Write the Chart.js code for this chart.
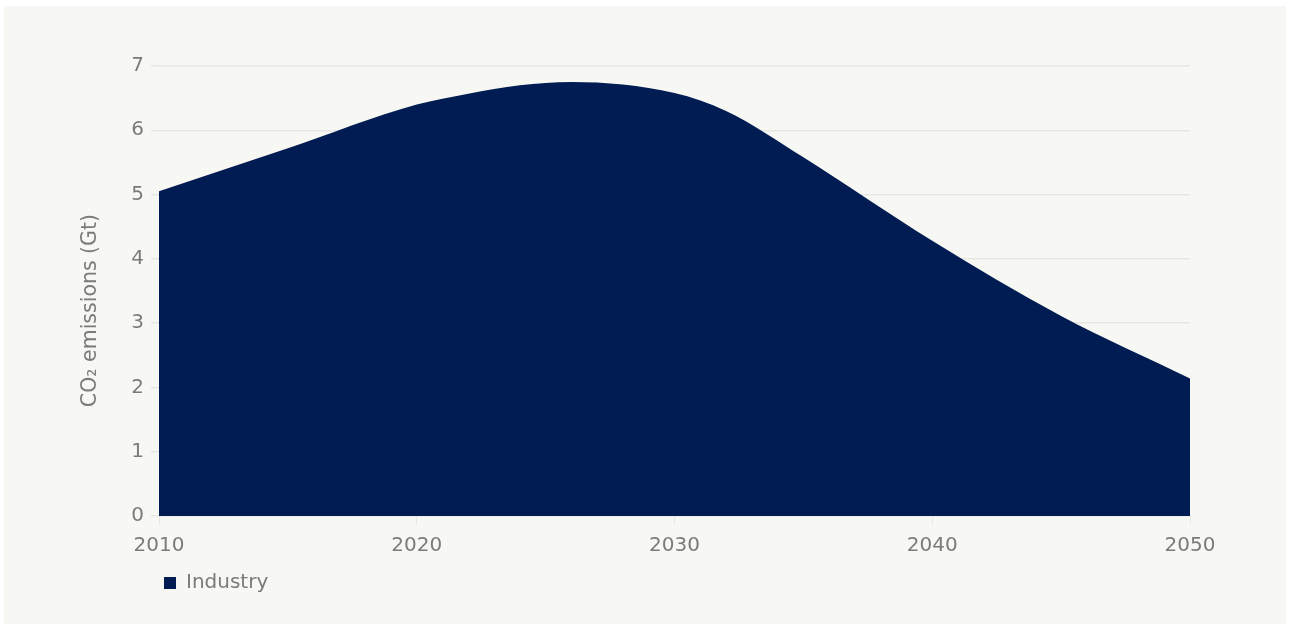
<!DOCTYPE html>
<html>
<head>
<meta charset="utf-8">
<script src="https://cdn.jsdelivr.net/npm/chart.js@4"></script>
<style>
  html, body { margin: 0; padding: 0; background: #ffffff; }
  #wrap { position: absolute; left: 4px; top: 6px; width: 1282px; height: 618px; background: #f7f8f3; }
  canvas { display: block; }
</style>
</head>
<body>
<div id="wrap"><canvas id="c" width="1282" height="618"></canvas></div>
<script>
const years = [2010, 2015, 2020, 2022, 2024, 2026, 2030, 2032, 2035, 2040, 2045, 2050];
const industry = [5.05, 5.72, 6.40, 6.57, 6.70, 6.75, 6.58, 6.30, 5.58, 4.28, 3.11, 2.14];
const xTicks = [2010, 2020, 2030, 2040, 2050];
const yTicks = [0, 1, 2, 3, 4, 5, 6, 7];
const seriesName = 'Industry';
const yTitle = 'CO\u2082 emissions (Gt)\u00a0\u00a0\u00a0\u00a0\u00a0\u00a0';

const textColor = '#7b7b7b';
const gridColor = '#e6e6e3';
const fillColor = '#001c52';
const fontFamily = '"DejaVu Sans", Verdana, sans-serif';

new Chart(document.getElementById('c'), {
  type: 'line',
  data: {
    datasets: [{
      label: seriesName,
      data: years.map((y, i) => ({ x: y, y: industry[i] })),
      backgroundColor: fillColor,
      borderColor: fillColor,
      borderWidth: 0,
      pointRadius: 0,
      fill: 'origin',
      cubicInterpolationMode: 'monotone'
    }]
  },
  options: {
    responsive: false,
    animation: false,
    layout: { padding: { left: 74, right: 96, top: 60, bottom: 21 } },
    plugins: {
      tooltip: { enabled: false },
      legend: {
        position: 'bottom',
        align: 'start',
        fullSize: false,
        labels: {
          boxWidth: 12,
          boxHeight: 12,
          padding: 5,
          color: textColor,
          font: { family: fontFamily, size: 20 }
        }
      }
    },
    scales: {
      x: {
        type: 'linear',
        min: 2010,
        max: 2050,
        afterBuildTicks: (s) => { s.ticks = xTicks.map(v => ({ value: v })); },
        border: { display: false },
        grid: { drawOnChartArea: false, drawTicks: true, tickLength: 8, color: gridColor },
        ticks: {
          color: textColor,
          padding: 10,
          maxRotation: 0,
          font: { family: fontFamily, size: 20 },
          callback: (v) => String(v)
        }
      },
      y: {
        min: 0,
        max: 7,
        afterBuildTicks: (s) => { s.ticks = yTicks.map(v => ({ value: v })); },
        afterFit: (s) => { s.width = 81; },
        border: { display: false },
        grid: { color: gridColor, lineWidth: 1.5, tickLength: 8 },
        ticks: {
          color: textColor,
          padding: 7,
          font: { family: fontFamily, size: 20 }
        },
        title: {
          display: true,
          text: yTitle,
          color: textColor,
          padding: 0,
          font: { family: fontFamily, size: 20.5 }
        }
      }
    }
  }
});
</script>
</body>
</html>
